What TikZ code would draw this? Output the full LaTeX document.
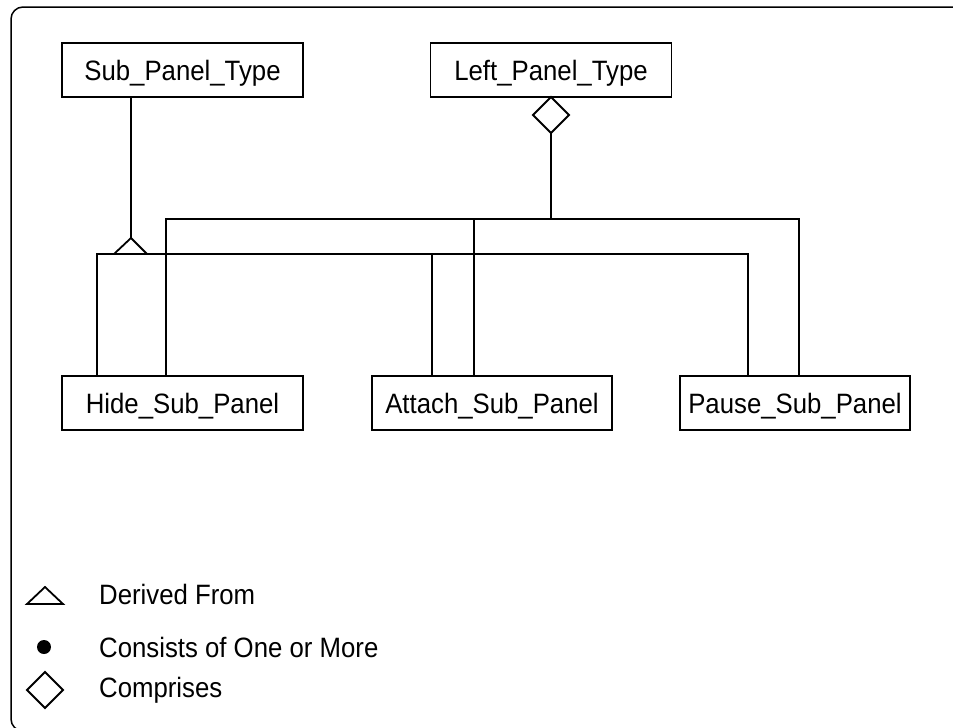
\documentclass[tikz,border=0pt]{standalone}
\usepackage{fontspec}
\setmainfont{Liberation Sans}[FakeStretch=0.92]
\begin{document}
\begin{tikzpicture}[x=1pt,y=-1pt,
  cls/.style={draw,line width=1.6pt,minimum width=241pt,minimum height=54pt,inner sep=0pt,text height=20pt,text depth=0pt,font=\fontsize{28}{32}\selectfont},
  conn/.style={line width=1.8pt},
  sym/.style={line width=1.8pt,line join=miter},
  lbl/.style={anchor=base west,inner sep=0pt,font=\fontsize{28}{32}\selectfont}]
\useasboundingbox (0,0) rectangle (953,728);
\clip (0,0) rectangle (953,728);
\draw[line width=1.5pt,rounded corners=12pt] (11,7) rectangle (975,731);

% classes
\node[cls] (sub) at (182.5,70) {Sub\_Panel\_Type};
\node[cls] (left) at (551,70) {Left\_Panel\_Type};
\node[cls] (hide) at (182.5,403) {Hide\_Sub\_Panel};
\node[cls,minimum width=240pt] (attach) at (492,403) {Attach\_Sub\_Panel};
\node[cls,minimum width=230pt] (pause) at (795,403) {Pause\_Sub\_Panel};

% derived-from triangle
\coordinate (tri) at (131,238);
\draw[sym] (tri) -- (114,254) -- (147,254) -- cycle;
\draw[conn] (sub.south -| tri) -- (tri);

% lower bus (derived from)
\coordinate (b1) at (97,254);
\coordinate (b2) at (748,254);
\coordinate (b3) at (432,254);
\draw[conn] (hide.north -| b1) -- (b1) -- (b2) -- (pause.north -| b2);
\draw[conn] (b3) -- (attach.north -| b3);

% comprises diamond
\coordinate (dtop) at (551,97);
\coordinate (dbot) at (551,133);
\draw[sym] (dtop) -- (569,115) -- (dbot) -- (533,115) -- cycle;
\coordinate (u0) at (551,219);
\draw[conn] (dbot) -- (u0);

% upper bus (comprises)
\coordinate (u1) at (166,219);
\coordinate (u2) at (799,219);
\coordinate (u3) at (474,219);
\draw[conn] (hide.north -| u1) -- (u1) -- (u2) -- (pause.north -| u2);
\draw[conn] (u3) -- (attach.north -| u3);

% legend
\draw[sym] (45,587) -- (27,604) -- (63,604) -- cycle;
\fill (44,647) circle (7);
\draw[sym] (45,672) -- (63,690) -- (45,708) -- (27,690) -- cycle;
\node[lbl] (l1) at (99,604) {Derived From};
\node[lbl] (l2) at (99,657) {Consists of One or More};
\node[lbl] (l3) at (99,697) {Comprises};
\end{tikzpicture}
\end{document}
